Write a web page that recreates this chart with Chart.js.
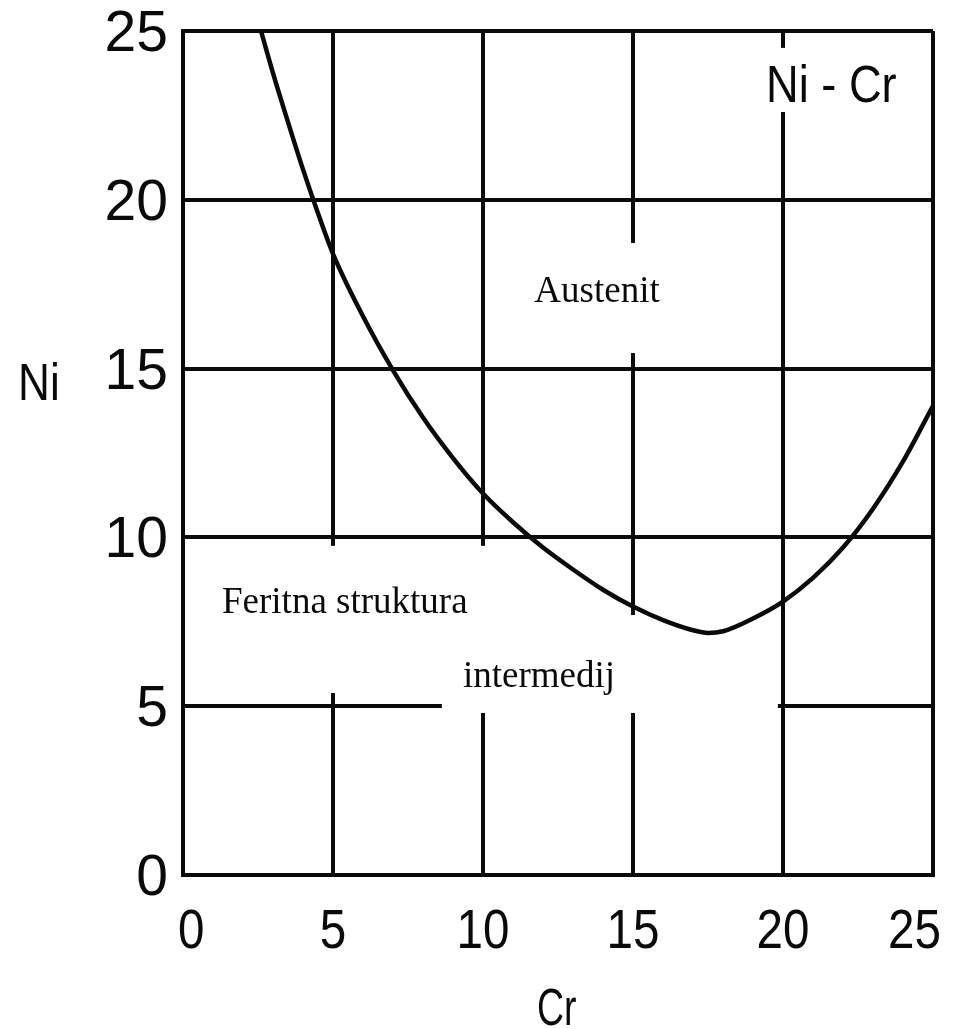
<!DOCTYPE html>
<html>
<head>
<meta charset="utf-8">
<script src="https://cdn.jsdelivr.net/npm/chart.js@4.4.1/dist/chart.umd.min.js"></script>
<style>
  html, body { margin: 0; padding: 0; background: #fff; }
  #wrap { width: 956px; height: 1029px; position: relative; }
</style>
</head>
<body>
<div id="wrap"><canvas id="c" width="956" height="1029"></canvas></div>
<script>
// Data: boundary curve Ni vs Cr
const crValues = [2.6, 3, 3.5, 4, 4.5, 5, 6, 7, 8, 9, 10, 11, 12, 13, 14, 15, 16, 17, 17.5, 18, 19, 20, 21, 22, 23, 24, 25];
const niValues = [25, 23.75, 22.3, 20.9, 19.6, 18.4, 16.55, 14.95, 13.55, 12.35, 11.3, 10.45, 9.7, 9.05, 8.45, 7.95, 7.55, 7.25, 7.17, 7.22, 7.6, 8.1, 8.8, 9.7, 10.85, 12.25, 13.9];
const xTicks = [0, 5, 10, 15, 20, 25];
const yTicks = [0, 5, 10, 15, 20, 25];
const xTitle = "Cr";
const yTitle = "Ni";
const cornerLabel = "Ni - Cr";
const regionLabels = ["Austenit", "Feritna struktura", "intermedij"];

const points = crValues.map((x, i) => ({ x: x, y: niValues[i] }));

const INK = '#0a0a0a';
const SANS = '"Liberation Sans", Arial, sans-serif';

function narrowText(ctx, text, x, y, size, sx, align) {
  ctx.save();
  ctx.font = size + 'px ' + SANS;
  const w = ctx.measureText(text).width * sx;
  let left = x;
  if (align === 'center') left = x - w / 2;
  else if (align === 'right') left = x - w;
  ctx.translate(left, y);
  ctx.scale(sx, 1);
  ctx.textAlign = 'left';
  ctx.fillText(text, 0, 0);
  ctx.restore();
  return { left: left, width: w };
}

const overlayPlugin = {
  id: 'overlay',
  beforeDatasetsDraw(chart) {
    const { ctx } = chart;
    const xs = chart.scales.x, ys = chart.scales.y;
    const box = (x0, x1, y0, y1) => {
      const px0 = xs.getPixelForValue(x0), px1 = xs.getPixelForValue(x1);
      const py0 = ys.getPixelForValue(y0), py1 = ys.getPixelForValue(y1);
      ctx.fillRect(Math.min(px0, px1), Math.min(py0, py1), Math.abs(px1 - px0), Math.abs(py1 - py0));
    };
    ctx.save();
    ctx.fillStyle = '#fff';
    box(0.57, 12.67, 9.75, 5.39);   // Feritna struktura
    box(8.63, 19.83, 7.7, 4.8);     // intermedij
    box(10.57, 17.23, 18.72, 15.46);// Austenit
    box(19.3, 24.3, 24.5, 22.6);    // Ni - Cr
    ctx.restore();
  },
  afterDraw(chart) {
    const { ctx } = chart;
    const xs = chart.scales.x, ys = chart.scales.y;
    ctx.save();
    ctx.fillStyle = INK;
    ctx.textBaseline = 'alphabetic';
    // region labels (serif)
    ctx.font = '37px "Liberation Serif", "Times New Roman", serif';
    ctx.textAlign = 'center';
    ctx.fillText(regionLabels[0], xs.getPixelForValue(13.8), ys.getPixelForValue(16.97));
    ctx.textAlign = 'left';
    ctx.fillText(regionLabels[1], xs.getPixelForValue(1.3), ys.getPixelForValue(7.76));
    ctx.fillText(regionLabels[2], xs.getPixelForValue(9.33), ys.getPixelForValue(5.57));
    // x tick labels (condensed look), placed by the x scale
    const baseY = ys.bottom + 73;
    xs.ticks.forEach((t) => {
      const px = xs.getPixelForValue(t.value);
      const label = String(t.value);
      ctx.save();
      ctx.font = '56px ' + SANS;
      const w = ctx.measureText(label).width * 0.85;
      ctx.restore();
      let cx = px;
      if (cx + w / 2 > 941) cx = 941 - w / 2;
      if (cx - w / 2 < 178) cx = 178 + w / 2;
      narrowText(ctx, label, cx, baseY, 56, 0.85, 'center');
    });
    // y tick labels, placed by the y scale, glyphs centred on the grid line
    ys.ticks.forEach((t) => {
      const py = ys.getPixelForValue(t.value);
      narrowText(ctx, String(t.value), 168, py + 20, 57, 1, 'right');
    });
    // corner label and axis titles
    narrowText(ctx, cornerLabel, 766, 102, 52, 0.87, 'left');
    narrowText(ctx, yTitle, 18, 400, 52, 0.85, 'left');
    narrowText(ctx, xTitle, 537, 1025, 52, 0.72, 'left');
    ctx.restore();
  }
};

new Chart(document.getElementById('c'), {
  type: 'scatter',
  data: {
    datasets: [{
      data: points,
      showLine: true,
      borderColor: INK,
      borderWidth: 4.5,
      pointRadius: 0,
      cubicInterpolationMode: 'monotone',
      fill: false
    }]
  },
  options: {
    responsive: false,
    animation: false,
    devicePixelRatio: 1,
    layout: { padding: { top: 31, right: 23, left: 0, bottom: 0 } },
    plugins: { legend: { display: false }, tooltip: { enabled: false } },
    scales: {
      x: {
        type: 'linear',
        min: 0, max: 25,
        afterBuildTicks(scale) { scale.ticks = xTicks.map(v => ({ value: v })); },
        afterFit(scale) { scale.height = 154; scale.paddingLeft = 0; scale.paddingRight = 0; },
        grid: { color: INK, lineWidth: 4, drawTicks: false },
        border: { color: INK, width: 4 },
        ticks: {
          color: 'rgba(0,0,0,0)',
          padding: 28,
          maxRotation: 0,
          font: { family: SANS, size: 20 },
          callback: v => String(v)
        }
      },
      y: {
        type: 'linear',
        min: 0, max: 25,
        afterBuildTicks(scale) { scale.ticks = yTicks.map(v => ({ value: v })); },
        afterFit(scale) { scale.width = 183; scale.paddingTop = 0; scale.paddingBottom = 0; },
        grid: { color: INK, lineWidth: 4, drawTicks: false },
        border: { color: INK, width: 4 },
        ticks: {
          color: 'rgba(0,0,0,0)',
          padding: 16,
          font: { family: SANS, size: 20 },
          callback: v => String(v)
        }
      }
    }
  },
  plugins: [overlayPlugin]
});
</script>
</body>
</html>
